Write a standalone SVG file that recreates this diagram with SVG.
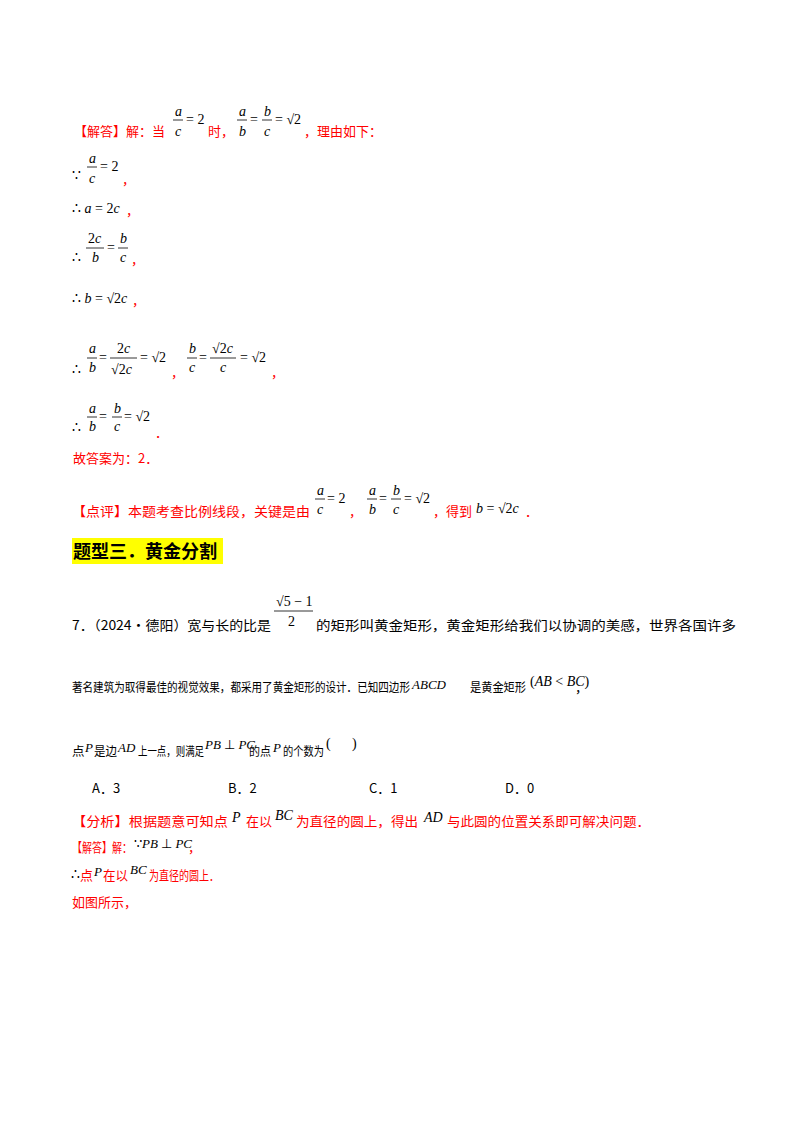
<svg xmlns="http://www.w3.org/2000/svg" width="800" height="1132" viewBox="0 0 800 1132">
<style>
.r{fill:#ff0000;font-family:"Noto Sans CJK SC",sans-serif;font-size:13px}
.k{fill:#000;font-family:"Noto Sans CJK SC",sans-serif;font-size:13px}
.c{font-size:12.5px}
.m{fill:#000;font-family:"Liberation Serif",serif;font-size:14px}
.s{font-size:13px}
.i{font-style:italic}
.b{stroke:#000;stroke-width:0.8}
</style>
<rect width="800" height="1132" fill="#fff"/>
<g id="solution1">
<text class="r" x="74" y="136">【解答】解：当</text>
<text class="m i" x="175" y="116">a</text><line class="b" x1="173" y1="120" x2="183" y2="120"/><text class="m i" x="175" y="136">c</text>
<text class="m" x="186" y="124">= 2</text>
<text class="r" x="208" y="136">时，</text>
<text class="m i" x="239" y="116">a</text><line class="b" x1="237" y1="120" x2="247" y2="120"/><text class="m i" x="239" y="136">b</text>
<text class="m" x="250" y="124">=</text>
<text class="m i" x="264" y="116">b</text><line class="b" x1="262" y1="120" x2="272" y2="120"/><text class="m i" x="264" y="136">c</text>
<text class="m" x="275" y="124">= √2</text>
<text class="r" x="304" y="136">，理由如下：</text>

<text class="m" x="72" y="180">∵</text>
<text class="m i" x="89" y="163">a</text><line class="b" x1="87" y1="167" x2="97" y2="167"/><text class="m i" x="89" y="183">c</text>
<text class="m" x="100" y="171">= 2</text>
<text class="r" x="122" y="184">，</text>

<text class="m" x="72" y="213">∴ <tspan class="i">a</tspan> = 2<tspan class="i">c</tspan></text>
<text class="r" x="126" y="215">，</text>

<text class="m" x="72" y="262">∴</text>
<text class="m" x="88" y="243">2<tspan class="i">c</tspan></text><line class="b" x1="86" y1="248" x2="104" y2="248"/><text class="m i" x="92" y="262">b</text>
<text class="m" x="107" y="252">=</text>
<text class="m i" x="120" y="243">b</text><line class="b" x1="118" y1="248" x2="128" y2="248"/><text class="m i" x="120" y="262">c</text>
<text class="r" x="131" y="264">，</text>

<text class="m" x="72" y="303">∴ <tspan class="i">b</tspan> = √2<tspan class="i">c</tspan></text>
<text class="r" x="132" y="305">，</text>

<text class="m" x="72" y="374">∴</text>
<text class="m i" x="89" y="353">a</text><line class="b" x1="87" y1="358" x2="97" y2="358"/><text class="m i" x="89" y="372">b</text>
<text class="m" x="99" y="362">=</text>
<text class="m" x="117" y="353">2<tspan class="i">c</tspan></text><line class="b" x1="110" y1="358" x2="137" y2="358"/><text class="m" x="111" y="374">√2<tspan class="i">c</tspan></text>
<text class="m" x="140" y="362">= √2</text>
<text class="r" x="171" y="377">，</text>
<text class="m i" x="189" y="353">b</text><line class="b" x1="187" y1="358" x2="197" y2="358"/><text class="m i" x="189" y="372">c</text>
<text class="m" x="199" y="362">=</text>
<text class="m" x="212" y="353">√2<tspan class="i">c</tspan></text><line class="b" x1="210" y1="358" x2="236" y2="358"/><text class="m i" x="220" y="372">c</text>
<text class="m" x="240" y="362">= √2</text>
<text class="r" x="271" y="377">，</text>

<text class="m" x="72" y="432">∴</text>
<text class="m i" x="89" y="413">a</text><line class="b" x1="87" y1="417" x2="97" y2="417"/><text class="m i" x="89" y="431">b</text>
<text class="m" x="99" y="421">=</text>
<text class="m i" x="114" y="413">b</text><line class="b" x1="112" y1="417" x2="122" y2="417"/><text class="m i" x="114" y="431">c</text>
<text class="m" x="124" y="421">= √2</text>
<text class="r" x="155" y="437">．</text>

<text class="r" x="73" y="463">故答案为：2．</text>
</g>
<g id="comment">
<text class="r" x="72" y="516" textLength="238" lengthAdjust="spacingAndGlyphs">【点评】本题考查比例线段，关键是由</text>
<text class="m i" x="317" y="495">a</text><line class="b" x1="315" y1="499" x2="325" y2="499"/><text class="m i" x="317" y="514">c</text>
<text class="m" x="327" y="503">= 2</text>
<text class="r" x="349" y="516">，</text>
<text class="m i" x="369" y="495">a</text><line class="b" x1="367" y1="499" x2="377" y2="499"/><text class="m i" x="369" y="514">b</text>
<text class="m" x="379" y="503">=</text>
<text class="m i" x="393" y="495">b</text><line class="b" x1="391" y1="499" x2="401" y2="499"/><text class="m i" x="393" y="514">c</text>
<text class="m" x="404" y="503">= √2</text>
<text class="r" x="433" y="516">，得到</text>
<text class="m" x="476" y="513"><tspan class="i">b</tspan> = √2<tspan class="i">c</tspan></text>
<text class="r" x="525" y="516">．</text>
</g>
<g id="heading">
<rect x="72" y="538" width="151" height="26" fill="#ffff00"/>
<text x="73" y="558" font-family="Noto Sans CJK SC,sans-serif" font-size="18" font-weight="bold" fill="#000">题型三．黄金分割</text>
</g>
<g id="question7">
<text class="k" x="72" y="630" textLength="199" lengthAdjust="spacingAndGlyphs">7．（2024•德阳）宽与长的比是</text>
<text class="m" x="276" y="606">√5 − 1</text><line class="b" x1="274" y1="611" x2="313" y2="611"/><text class="m" x="288" y="626">2</text>
<text class="k" x="316" y="630" textLength="420" lengthAdjust="spacingAndGlyphs">的矩形叫黄金矩形，黄金矩形给我们以协调的美感，世界各国许多</text>
<text class="k c" x="72" y="692" textLength="338" lengthAdjust="spacingAndGlyphs">著名建筑为取得最佳的视觉效果，都采用了黄金矩形的设计．已知四边形</text>
<text class="m i s" x="412" y="689">ABCD</text>
<text class="k c" x="470" y="692" textLength="56" lengthAdjust="spacingAndGlyphs">是黄金矩形</text>
<text class="m" x="530" y="686" font-size="11">(<tspan class="i">AB</tspan> &lt; <tspan class="i">BC</tspan>)</text>
<text class="k" x="575" y="692">，</text>
<text class="k c" x="72" y="756">点</text>
<text class="m i s" x="85" y="752">P</text>
<text class="k c" x="94" y="756" textLength="23" lengthAdjust="spacingAndGlyphs">是边</text>
<text class="m i s" x="118" y="752">AD</text>
<text class="k c" x="138" y="756" textLength="66" lengthAdjust="spacingAndGlyphs">上一点，则满足</text>
<text class="m i s" x="205" y="749">PB<tspan font-style="normal"> ⊥ </tspan>PC</text>
<text class="k c" x="249" y="756" textLength="22" lengthAdjust="spacingAndGlyphs">的点</text>
<text class="m i s" x="273" y="752">P</text>
<text class="k c" x="283" y="756" textLength="41" lengthAdjust="spacingAndGlyphs">的个数为</text>
<text class="m" x="326" y="748">(</text><text class="m" x="352" y="748">)</text>
<text class="k" x="92" y="793">A．3</text>
<text class="k" x="228" y="793">B．2</text>
<text class="k" x="369" y="793">C．1</text>
<text class="k" x="505" y="793">D．0</text>
</g>
<g id="analysis">
<text class="r" x="72" y="826" textLength="156" lengthAdjust="spacingAndGlyphs">【分析】根据题意可知点</text>
<text class="m i" x="232" y="822">P</text>
<text class="r" x="246" y="826" textLength="26" lengthAdjust="spacingAndGlyphs">在以</text>
<text class="m i" x="275" y="820">BC</text>
<text class="r" x="296" y="826" textLength="122" lengthAdjust="spacingAndGlyphs">为直径的圆上，得出</text>
<text class="m i" x="424" y="822">AD</text>
<text class="r" x="447" y="826" textLength="203" lengthAdjust="spacingAndGlyphs">与此圆的位置关系即可解决问题．</text>
<text class="r" x="72" y="852" textLength="60" lengthAdjust="spacingAndGlyphs">【解答】解：</text>
<text class="m s" x="134" y="848">∵<tspan class="i">PB</tspan> ⊥ <tspan class="i">PC</tspan></text>
<text class="r" x="188" y="852">，</text>
<text class="m" x="71" y="879">∴</text>
<text class="r" x="80" y="880">点</text>
<text class="m i s" x="94" y="876">P</text>
<text class="r" x="103" y="880" textLength="25" lengthAdjust="spacingAndGlyphs">在以</text>
<text class="m i s" x="130" y="874">BC</text>
<text class="r" x="149" y="880" textLength="70" lengthAdjust="spacingAndGlyphs">为直径的圆上．</text>
<text class="r" x="72" y="907">如图所示，</text>
</g>
</svg>
